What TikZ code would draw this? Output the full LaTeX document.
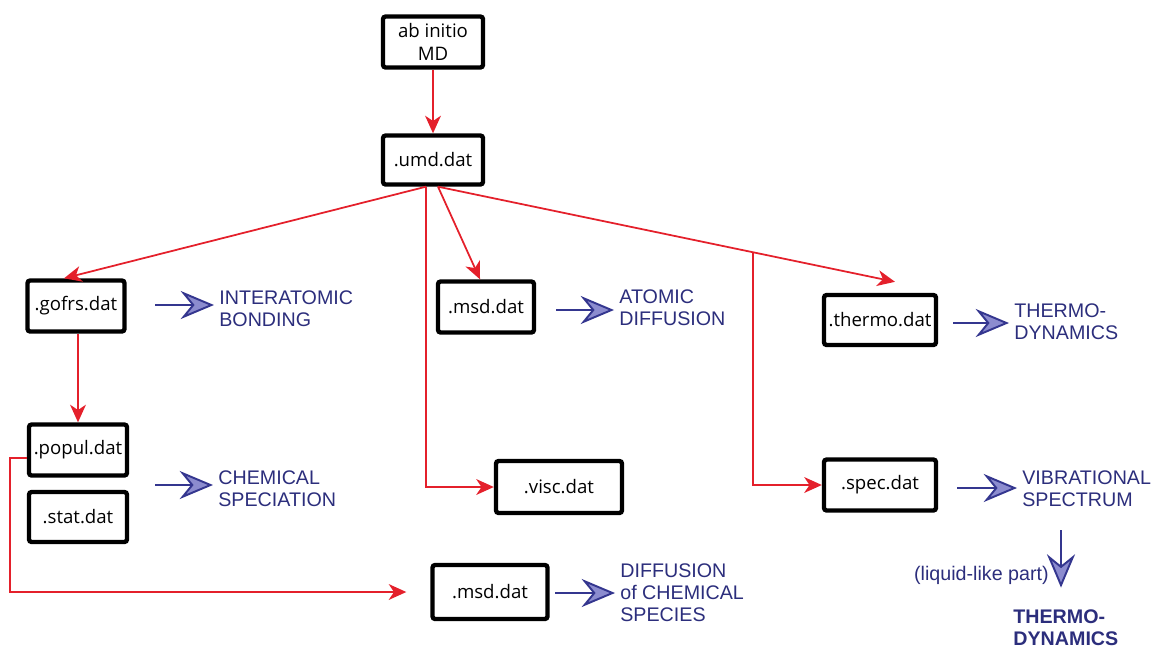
\documentclass[tikz,border=0pt]{standalone}
\usepackage{fontspec}
\setmainfont{Liberation Sans}
\newfontfamily\boxfont{Open Sans}
\usetikzlibrary{arrows.meta, positioning, calc}
\definecolor{flowred}{HTML}{E4202B}
\definecolor{navy}{HTML}{2C2E7C}
\definecolor{navyline}{HTML}{34368F}
\definecolor{headfill}{HTML}{8C8CCF}
\tikzset{
  datbox/.style={rectangle, rounded corners=1.5pt, draw=black,
                 line width=2.5pt, fill=white, align=center, inner sep=0pt,
                 font=\boxfont\fontsize{10.6}{13.5}\selectfont},
  flow/.style={-{Stealth[length=10pt, width=9pt, inset=3pt]},
               draw=flowred, line width=1pt},
  leads/.style={-{Stealth[length=19pt, width=16pt, inset=6.5pt, fill=headfill]},
                draw=navyline, line width=1.1pt},
  result/.style={anchor=west, inner sep=0pt, align=left, text=navy,
                 font=\fontsize{11.2}{12.6}\selectfont},
}

\begin{document}
\begin{tikzpicture}[x=0.02cm, y=-0.02cm]
  \useasboundingbox (0,0) rectangle (1153,650);

  %% Data files
  \node[datbox, minimum width=2.0cm, minimum height=1.02cm] (init)   at (433,42)  {ab initio\\MD};
  \node[datbox, minimum width=2.0cm, minimum height=0.98cm] (umd)    at (433,160) {.umd.dat};
  \node[datbox, minimum width=1.94cm, minimum height=1.02cm] (gofrs)  at (76,306)  {.gofrs.dat};
  \node[datbox, minimum width=1.92cm, minimum height=1.02cm] (msdA)   at (486,307) {.msd.dat};
  \node[datbox, minimum width=2.24cm, minimum height=1.0cm]  (thermo) at (880,320) {.thermo.dat};
  \node[datbox, minimum width=1.96cm, minimum height=1.02cm] (popul)  at (78,450)  {.popul.dat};
  \node[datbox, minimum width=1.96cm, minimum height=1.0cm]  (stat)   at (78,517)  {.stat.dat};
  \node[datbox, minimum width=2.52cm, minimum height=1.04cm] (visc)   at (559,487) {.visc.dat};
  \node[datbox, minimum width=2.24cm, minimum height=1.02cm] (spec)   at (880,485) {.spec.dat};
  \node[datbox, minimum width=2.30cm, minimum height=1.08cm] (msdB)   at (490,592) {.msd.dat};

  %% Properties
  \node[result] (bond)      at (219,309)  {INTERATOMIC\\BONDING};
  \node[result] (atdiff)    at (619,308)  {ATOMIC\\DIFFUSION};
  \node[result] (thermodyn) at (1014,322) {THERMO-\\DYNAMICS};
  \node[result] (chemspec)  at (218,489)  {CHEMICAL\\SPECIATION};
  \node[result] (vib)       at (1022,489) {VIBRATIONAL\\SPECTRUM};
  \node[result] (diffchem)  at (620,593)  {DIFFUSION\\of CHEMICAL\\SPECIES};
  \node[result, anchor=east] (liquid) at (1049,575) {(liquid-like part)};
  \node[result, font=\fontsize{11.2}{12.6}\selectfont\bfseries] (thermo2)
    at (1013,628) {THERMO-\\DYNAMICS};

  %% Red flow
  \coordinate (umdL) at ($(umd.south)+(-7,0)$);
  \coordinate (umdR) at ($(umd.south)+(5,0)$);
  \coordinate (thermoTip) at ($(thermo.north)+(15,-11)$);
  \coordinate (fork) at ($(umdR)!0.689!(thermoTip)$);
  \draw[flow] (init) -- (umd);
  \draw[flow] (umdL) -- ($(gofrs.north)+(-12,0)$);
  \draw[flow] (umdR) -- ($(msdA.north)+(-6,0)$);
  \draw[flow] (umdR) -- (thermoTip);
  \draw[flow] (umdL) |- (visc.west);
  \draw[flow] (fork) |- (spec.west);
  \draw[flow] (popul.north |- gofrs.south) -- (popul.north);
  \draw[flow] ($(popul.west)+(0,8)$) -- ++(-17,0) |- ($(msdB.west)+(-24,0)$);

  %% Blue arrows
  \foreach \s/\lab/\y in {155/bond/305, 556/atdiff/310, 953/thermodyn/323,
                          155/chemspec/485, 957/vib/488, 555/diffchem/593}{
    \coordinate (s) at (\s,\y);
    \draw[leads] (s) -- ($(s -| \lab.west)+(-5,0)$);
  }
  \coordinate (liqS) at (1061,530);
  \draw[leads] (liqS) -- ($(liqS |- thermo2.north)+(0,-22)$);

\end{tikzpicture}
\end{document}
